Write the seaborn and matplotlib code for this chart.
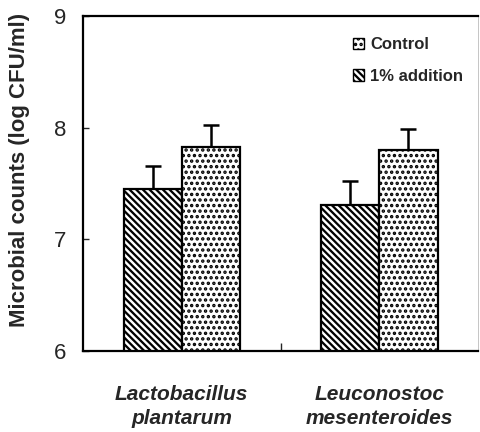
import pandas as pd
import numpy as np
import matplotlib
matplotlib.use("Agg")
import matplotlib.pyplot as plt
from matplotlib.patches import Patch
import seaborn as sns

# values
species = ["Lactobacillus\nplantarum", "Leuconostoc\nmesenteroides"]
treatments = ["1% addition", "Control"]
addition_mean = [7.45, 7.31]
addition_sd = [0.21, 0.21]
control_mean = [7.83, 7.80]
control_sd = [0.19, 0.19]
y_ticks = [6, 7, 8, 9]

df = pd.DataFrame({
    "species": species * 2,
    "treatment": [treatments[0]] * 2 + [treatments[1]] * 2,
    "count": addition_mean + control_mean,
    "sd": addition_sd + control_sd,
})

sns.set_style("ticks")
plt.rcParams["font.family"] = ["Liberation Sans", "DejaVu Sans"]
plt.rcParams["hatch.linewidth"] = 1.65
plt.rcParams["hatch.color"] = "black"

fig = plt.figure(figsize=(4.8, 4.32), dpi=100)
ax = fig.add_axes([0.173, 0.1875, 0.823, 0.776])

sns.barplot(data=df, x="species", y="count", hue="treatment",
            hue_order=treatments, order=species, width=0.59,
            errorbar=None, legend=False, ax=ax)

hatches = {"1% addition": "\\\\\\\\\\", "Control": "..."}
for cont, trt in zip(ax.containers, treatments):
    sub = df[df.treatment == trt].set_index("species").loc[species]
    xs = []
    for bar in cont:
        bar.set_facecolor("white")
        bar.set_edgecolor("black")
        bar.set_linewidth(1.6)
        bar.set_hatch(hatches[trt])
        bar.set_zorder(2)
        xs.append(bar.get_x() + bar.get_width() / 2)
    ax.errorbar(xs, sub["count"], yerr=[np.zeros(len(xs)), sub["sd"]],
                fmt="none", ecolor="black", elinewidth=1.8, capsize=6,
                capthick=1.8, zorder=1)

ax.set_ylim(6, 9)
ax.set_xlim(-0.5, 1.5)
ax.set_yticks(y_ticks)
ax.set_yticklabels([str(t) for t in y_ticks], fontsize=16)
ax.set_xticks([0.5])
ax.set_xticklabels([""])
ax.tick_params(axis="x", direction="in", length=6, width=1)
ax.tick_params(axis="y", direction="in", length=4, width=1, pad=12)
for s in ax.spines.values():
    s.set_visible(True)
    s.set_linewidth(1.6)
    s.set_color("black")
ax.spines["right"].set_linewidth(0.6)
ax.spines["right"].set_color("#bbbbbb")

for i, name in enumerate(species):
    ax.text(i, 5.7, name, ha="center", va="top", fontsize=15,
            style="italic", fontweight="bold",
            linespacing=1.35, transform=ax.transData)

ax.set_xlabel("")
ax.set_ylabel("Microbial counts (log CFU/ml)", fontsize=16,
              fontweight="bold")
ax.yaxis.set_label_coords(-0.135, 0.54)

handles = [Patch(facecolor="white", edgecolor="black", hatch="..."),
           Patch(facecolor="white", edgecolor="black", hatch="\\\\\\\\\\")]
ax.legend(handles, ["Control", "1% addition"], loc="upper right",
          bbox_to_anchor=(1.0, 0.98), frameon=False,
          handlelength=0.7, handleheight=0.7, handletextpad=0.35,
          labelspacing=1.0, prop={"weight": "bold", "size": 12})

fig.savefig("out.png", dpi=100)
